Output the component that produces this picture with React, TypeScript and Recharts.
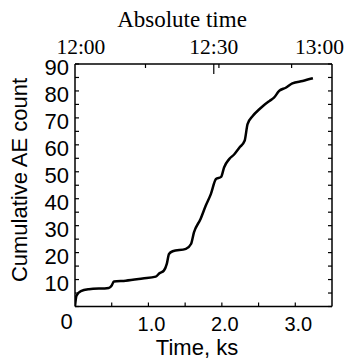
import React from "react";
import { LineChart, Line, XAxis, YAxis } from "recharts";

// cumulative acoustic emission count vs time
const timeKs = [
  0, 0.02, 0.08, 0.19, 0.46, 0.5, 0.53, 0.69, 0.92, 1.1, 1.15, 1.21, 1.25,
  1.28, 1.33, 1.51, 1.58, 1.62, 1.71, 1.78, 1.85, 1.92, 1.99, 2.03, 2.1, 2.17,
  2.24, 2.31, 2.35, 2.42, 2.51, 2.56, 2.65, 2.71, 2.78, 2.87, 2.96, 3.1, 3.24,
];
const aeCount = [
  0, 4, 5.7, 6.4, 6.9, 7.8, 9.3, 9.6, 10.4, 11.1, 12.3, 13.3, 15.8, 19.5, 20.5,
  21.4, 23.2, 27.5, 32.5, 37.4, 41.7, 47.3, 48.1, 51.6, 54.7, 56.5, 59, 61.5,
  67.7, 70.7, 73.2, 74.4, 76.3, 77.5, 80, 81.2, 82.8, 83.7, 84.7,
];

const timeTicks = [0, 0.5, 1, 1.5, 2, 2.5, 3];
const timeLabels = ["0", "", "1.0", "", "2.0", "", "3.0"];
const countTicks = [0, 5, 10, 15, 20, 25, 30, 35, 40, 45, 50, 55, 60, 65, 70, 75, 80, 85, 90];

const clockTicks = [0.08, 1.89, 3.33];
const clockLabels = ["12:00", "12:30", "13:00"];
const clockMinorTicks = [0.96, 1.96, 2.95];

const data = timeKs.map((t, i) => ({ t, n: aeCount[i] }));

const sans = "'Liberation Sans', Arial, sans-serif";
const serif = "'Liberation Serif', 'Times New Roman', serif";

function BottomTick(props: any) {
  const { x, y, payload } = props;
  const i = timeTicks.indexOf(payload.value);
  const label = timeLabels[i] || "";
  const isZero = payload.value === 0;
  return (
    <g>
      {!isZero && <line x1={x} x2={x} y1={y} y2={y - 4} stroke="#000" strokeWidth={1.2} />}
      {label && (
        <text
          x={isZero ? x - 8.5 : x + 3}
          y={isZero ? y + 22 : y + 24}
          textAnchor="middle"
          fontFamily={sans}
          fontSize={isZero ? 22 : 20}
          fill="#000"
        >
          {label}
        </text>
      )}
    </g>
  );
}

function LeftTick(props: any) {
  const { x, y, payload } = props;
  const v = payload.value;
  return (
    <g>
      <line x1={x} x2={x + 4} y1={y} y2={y} stroke="#000" strokeWidth={1.2} />
      {v % 10 === 0 && v > 0 && (
        <text x={x - 6} y={y + 11} textAnchor="end" fontFamily={sans} fontSize={22} fill="#000">
          {v}
        </text>
      )}
    </g>
  );
}

function RightTick(props: any) {
  const { x, y } = props;
  return <line x1={x} x2={x - 4} y1={y} y2={y} stroke="#000" strokeWidth={1.2} />;
}

function TopTick(props: any) {
  const { x, y, payload } = props;
  const v = payload.value;
  const li = clockTicks.indexOf(v);
  if (li >= 0) {
    return (
      <g>
        {li === 1 && <line x1={x} x2={x} y1={y} y2={y + 10} stroke="#000" strokeWidth={1.2} />}
        <text x={x} y={y - 10} textAnchor="middle" fontFamily={serif} fontSize={21.5} fill="#000">
          {clockLabels[li]}
        </text>
      </g>
    );
  }
  return <line x1={x} x2={x} y1={y} y2={y + 4} stroke="#000" strokeWidth={1.2} />;
}

export default function App() {
  return (
    <div style={{ position: "absolute", left: 0, top: 0, width: 347, height: 361, background: "#fff" }}>
      <LineChart
        width={347}
        height={361}
        data={data}
        margin={{ top: 63, right: 14, bottom: 53.5, left: 74 }}
      >
        <XAxis
          dataKey="t"
          type="number"
          domain={[0, 3.5]}
          ticks={timeTicks}
          interval={0}
          height={1}
          tickSize={0}
          tickMargin={0}
          tickLine={false}
          axisLine={{ stroke: "#000", strokeWidth: 1.5 }}
          tick={BottomTick}
          allowDataOverflow
        />
        <XAxis
          xAxisId="top"
          orientation="top"
          dataKey="t"
          type="number"
          domain={[0, 3.5]}
          ticks={[...clockTicks, ...clockMinorTicks].sort((a, b) => a - b)}
          interval={0}
          height={1}
          tickSize={0}
          tickMargin={0}
          tickLine={false}
          axisLine={{ stroke: "#000", strokeWidth: 1.5 }}
          tick={TopTick}
          allowDataOverflow
        />
        <YAxis
          type="number"
          domain={[0, 90]}
          ticks={countTicks}
          interval={0}
          width={1}
          tickSize={0}
          tickMargin={0}
          tickLine={false}
          axisLine={{ stroke: "#000", strokeWidth: 1.5 }}
          tick={LeftTick}
          allowDataOverflow
        />
        <YAxis
          yAxisId="right"
          orientation="right"
          type="number"
          domain={[0, 90]}
          ticks={countTicks}
          interval={0}
          width={1}
          tickSize={0}
          tickMargin={0}
          tickLine={false}
          axisLine={{ stroke: "#000", strokeWidth: 1.5 }}
          tick={RightTick}
          allowDataOverflow
        />
        <Line
          type="monotone"
          dataKey="n"
          stroke="#000"
          strokeWidth={2.5}
          dot={false}
          isAnimationActive={false}
        />
      </LineChart>
      <svg
        width={347}
        height={361}
        style={{ position: "absolute", left: 0, top: 0, pointerEvents: "none" }}
      >
        <text x={182} y={27} textAnchor="middle" fontFamily={serif} fontSize={23} fill="#000">
          Absolute time
        </text>
        <text
          x={0}
          y={0}
          transform="translate(27, 180) rotate(-90)"
          textAnchor="middle"
          fontFamily={sans}
          fontSize={22}
          fill="#000"
        >
          Cumulative AE count
        </text>
        <text x={197} y={355} textAnchor="middle" fontFamily={sans} fontSize={22} fill="#000">
          Time, ks
        </text>
      </svg>
    </div>
  );
}
